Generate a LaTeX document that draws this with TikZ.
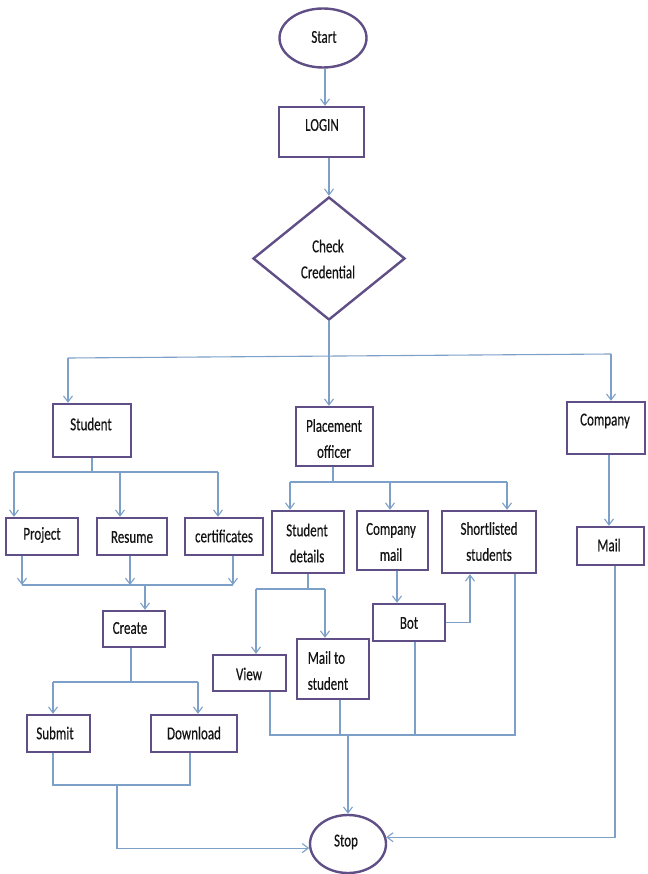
\documentclass[tikz,border=0pt]{standalone}
\usepackage{fontspec}
\setmainfont{Carlito}[FakeBold=0.4]
\usepackage{graphicx}
\usetikzlibrary{arrows.meta,shapes.geometric}
\definecolor{boxc}{RGB}{96,78,134}
\definecolor{linec}{RGB}{125,160,200}
\definecolor{txtc}{RGB}{20,20,20}
\newcommand\vs[1]{\scalebox{1}[1.4]{#1}}
\begin{document}
\begin{tikzpicture}[x=1pt,y=-1pt,
  box/.style={draw=boxc, line width=2.4pt, fill=white, inner sep=0pt, rectangle},
  oval/.style={box, ellipse},
  dia/.style={box, diamond},
  sz/.style 2 args={minimum width=#1pt, minimum height=#2pt},
  txt/.style={font=\fontsize{13}{26}\selectfont, text=txtc, inner sep=0pt, align=center},
  conn/.style={draw=linec, line width=1.1pt},
  arr/.style={conn, -{Straight Barb[length=6pt,width=9pt]}}]
\useasboundingbox (0,0) rectangle (647,874);
\fill[white] (0,0) rectangle (647,874);

% ---- nodes ----
\node[oval, sz={87}{59}] (start) at (323,38) {};
\node[txt] (startT) at (324,37) {\vs{Start}};
\node[box, sz={85}{50}] (login) at (321.5,132) {};
\node[txt] (loginT) at (322,125) {\vs{LOGIN}};
\node[dia, sz={152}{123}] (check) at (329,258.5) {};
\node[txt] (checkT) at (328,259) {\vs{Check}\\\vs{Credential}};

\node[box, sz={78}{53}] (stud) at (92,430.5) {};
\node[txt] (studT) at (91,424) {\vs{Student}};
\node[box, sz={77}{59}] (po) at (334.5,436.5) {};
\node[txt] (poT) at (334,438.5) {\vs{Placement}\\\vs{officer}};
\node[box, sz={78}{52}] (comp) at (606,428) {};
\node[txt] (compT) at (605,421) {\vs{Company}};

\node[box, sz={72}{37}] (proj) at (42,536.5) {};
\node[txt] (projT) at (42,535) {\vs{Project}};
\node[box, sz={70}{37}] (res) at (132,536.5) {};
\node[txt] (resT) at (132,537) {\vs{Resume}};
\node[box, sz={78}{37}] (cert) at (224,536.5) {};
\node[txt] (certT) at (224,536) {\vs{certificates}};

\node[box, sz={62}{36}] (create) at (134,629) {};
\node[txt] (createT) at (130,628) {\vs{Create}};
\node[box, sz={63}{37}] (submit) at (58.5,733.5) {};
\node[txt] (submitT) at (55,733) {\vs{Submit}};
\node[box, sz={86}{37}] (down) at (194,733.5) {};
\node[txt] (downT) at (194,733) {\vs{Download}};

\node[box, sz={72}{62}] (sd) at (308,542) {};
\node[txt] (sdT) at (307,543) {\vs{Student}\\\vs{details}};
\node[box, sz={71}{59}] (cm) at (392.5,540.5) {};
\node[txt] (cmT) at (391,542) {\vs{Company}\\\vs{mail}};
\node[box, sz={94}{62}] (sl) at (489,542) {};
\node[txt] (slT) at (489,541.5) {\vs{Shortlisted}\\\vs{students}};
\node[box, sz={67}{38}] (mail) at (610.5,546) {};
\node[txt] (mailT) at (609,545) {\vs{Mail}};

\node[box, sz={73}{36}] (view) at (249.5,673) {};
\node[txt] (viewT) at (249,674) {\vs{View}};
\node[box, sz={72}{60}] (mts) at (333,669) {};
\node[txt, align=left] (mtsT) at (328,670.5) {\vs{Mail to}\\\vs{student}};
\node[box, sz={72}{37}] (bot) at (409,622.5) {};
\node[txt] (botT) at (409,623) {\vs{Bot}};

\node[oval, sz={76}{58}] (stop) at (348,844) {};
\node[txt] (stopT) at (346,842) {\vs{Stop}};

% ---- connectors ----
\coordinate (c1) at (325,0);
\draw[arr] (start.south -| c1) -- (login.north -| c1);
\coordinate (c2) at (329,0);
\draw[arr] (login.south -| c2) -- (check.north);

\coordinate (bc) at (329,356);
\coordinate (bl) at (68,358);
\coordinate (br) at (611,354);
\draw[conn] (check.south) -- (bc);
\draw[conn] (bl) -- (br);
\draw[arr] (bl) -- (bl |- stud.north);
\draw[arr] (bc) -- (bc |- po.north);
\draw[arr] (br) -- (br |- comp.north);

% student branch
\coordinate (sj) at (92,472);
\coordinate (sl1) at (14,472);
\coordinate (sm1) at (120,472);
\coordinate (sr1) at (218,472);
\draw[conn] (stud.south) -- (sj);
\draw[conn] (sl1) -- (sr1);
\draw[arr] (sl1) -- (sl1 |- proj.north);
\draw[arr] (sm1) -- (sm1 |- res.north);
\draw[arr] (sr1) -- (sr1 |- cert.north);

\coordinate (g1) at (22,585);
\coordinate (g2) at (130,585);
\coordinate (g3) at (233,585);
\coordinate (gc) at (145,585);
\draw[arr] (g1 |- proj.south) -- (g1);
\draw[arr] (g2 |- res.south) -- (g2);
\draw[arr] (g3 |- cert.south) -- (g3);
\draw[conn] (g1) -- (g3);
\draw[arr] (gc) -- (gc |- create.north);

\coordinate (cj) at (131,682);
\coordinate (cl) at (53,682);
\coordinate (cr) at (198,682);
\draw[conn] (create.south -| cj) -- (cj);
\draw[conn] (cl) -- (cr);
\draw[arr] (cl) -- (cl |- submit.north);
\draw[arr] (cr) -- (cr |- down.north);

\coordinate (dl) at (53,785);
\coordinate (dr) at (190,785);
\coordinate (dj) at (117,785);
\draw[conn] (submit.south -| dl) -- (dl) -- (dr) -- (down.south -| dr);
\draw[arr] (dj) |- (stop.186);

% company branch
\coordinate (k1) at (609,0);
\draw[arr] (comp.south -| k1) -- (mail.north -| k1);
\coordinate (k2) at (615,0);
\draw[arr] (mail.south -| k2) |- (stop.10);

% placement officer branch
\coordinate (pj) at (333,482);
\coordinate (pl) at (290,482);
\coordinate (pm) at (390,482);
\coordinate (pr) at (507,482);
\draw[conn] (po.south -| pj) -- (pj);
\draw[conn] (pl) -- (pr);
\draw[arr] (pl) -- (pl |- sd.north);
\draw[arr] (pm) -- (pm |- cm.north);
\draw[arr] (pr) -- (pr |- sl.north);

\coordinate (qj) at (308,589);
\coordinate (ql) at (256,589);
\coordinate (qr) at (325,589);
\draw[conn] (sd.south) -- (qj);
\draw[conn] (ql) -- (qr);
\draw[arr] (ql) -- (ql |- view.north);
\draw[arr] (qr) -- (qr |- mts.north);

\coordinate (m1) at (397,0);
\draw[arr] (cm.south -| m1) -- (bot.north -| m1);
\coordinate (bt) at (470,0);
\draw[arr] (bot.east) -| (bt |- sl.south);

\coordinate (h1) at (270,735);
\coordinate (h2) at (340,735);
\coordinate (h3) at (415,735);
\coordinate (h4) at (515,735);
\coordinate (hs) at (348,735);
\draw[conn] (view.south -| h1) -- (h1) -- (h4) -- (sl.south -| h4);
\draw[conn] (mts.south -| h2) -- (h2);
\draw[conn] (bot.south -| h3) -- (h3);
\draw[arr] (hs) -- (stop.north);
\end{tikzpicture}
\end{document}
